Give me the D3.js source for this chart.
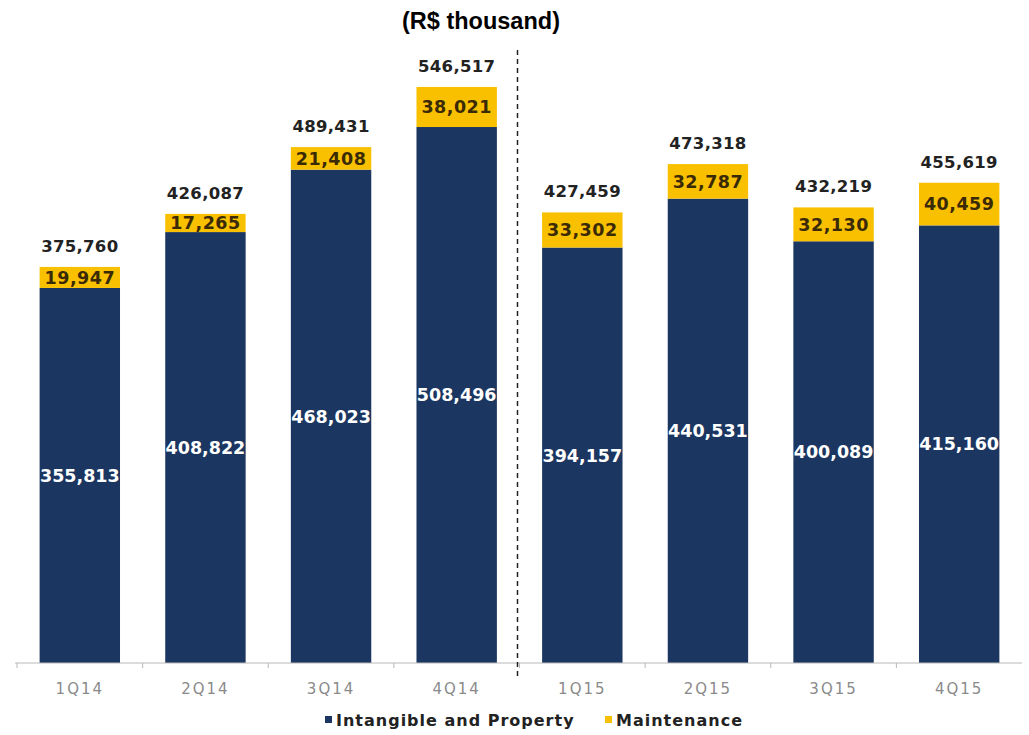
<!DOCTYPE html>
<html>
<head>
<meta charset="utf-8">
<script src="https://cdn.jsdelivr.net/npm/d3@7"></script>
<style>
  html, body { margin: 0; padding: 0; background: #fff; }
  svg { display: block; }
</style>
</head>
<body>
<svg id="chart" width="1029" height="735"></svg>
<script>
// Quarterly capex, R$ thousand
const quarters = ["1Q14", "2Q14", "3Q14", "4Q14", "1Q15", "2Q15", "3Q15", "4Q15"];
const intangible = [355813, 408822, 468023, 508496, 394157, 440531, 400089, 415160];
const maintenance = [19947, 17265, 21408, 38021, 33302, 32787, 32130, 40459];
const totals = [375760, 426087, 489431, 546517, 427459, 473318, 432219, 455619];
const seriesNames = ["Intangible and Property", "Maintenance"];

const navy = "#1b3660";
const gold = "#f9c000";
const fmt = d3.format(",");

const svg = d3.select("#chart");

const x = d3.scaleBand().domain(quarters).range([17, 1022]).paddingInner(0.36).paddingOuter(0.18);
const y = d3.scaleLinear().domain([0, 629000]).range([663, 0]);

// Title
svg.append("text")
  .attr("x", 481).attr("y", 29)
  .attr("text-anchor", "middle")
  .style("font-family", "Liberation Sans, Arial, sans-serif")
  .style("font-weight", "bold")
  .style("font-size", "23.5px")
  .attr("fill", "#000")
  .text("(R$ thousand)");

const rows = quarters.map((q, i) => ({ q, a: intangible[i], m: maintenance[i], t: totals[i] }));

// Intangible and Property segments
svg.append("g").selectAll("rect").data(rows).join("rect")
  .attr("x", d => x(d.q)).attr("width", x.bandwidth())
  .attr("y", d => y(d.a)).attr("height", d => y(0) - y(d.a))
  .attr("fill", navy);

// Maintenance segments stacked on top
svg.append("g").selectAll("rect").data(rows).join("rect")
  .attr("x", d => x(d.q)).attr("width", x.bandwidth())
  .attr("y", d => y(d.a + d.m)).attr("height", d => y(d.a) - y(d.a + d.m))
  .attr("fill", gold);

const labelFont = "'DejaVu Sans', sans-serif";

// Values inside the navy segments
svg.append("g").selectAll("text").data(rows).join("text")
  .attr("x", d => x(d.q) + x.bandwidth() / 2)
  .attr("y", d => (y(0) + y(d.a)) / 2)
  .attr("dy", "0.36em")
  .attr("text-anchor", "middle")
  .style("font-family", labelFont).style("font-weight", "bold").style("font-size", "17.5px")
  .attr("fill", "#fff")
  .text(d => fmt(d.a));

// Values inside the maintenance segments
svg.append("g").selectAll("text").data(rows).join("text")
  .attr("x", d => x(d.q) + x.bandwidth() / 2)
  .attr("y", d => (y(d.a) + y(d.a + d.m)) / 2)
  .attr("dy", "0.36em")
  .attr("text-anchor", "middle")
  .style("font-family", labelFont).style("font-weight", "bold").style("font-size", "17.5px")
  .style("letter-spacing", "0.5px")
  .attr("fill", "#3a2a05")
  .text(d => fmt(d.m));

// Totals above each bar
svg.append("g").selectAll("text").data(rows).join("text")
  .attr("x", d => x(d.q) + x.bandwidth() / 2)
  .attr("y", d => y(d.t) - 15)
  .attr("text-anchor", "middle")
  .style("font-family", labelFont).style("font-weight", "bold").style("font-size", "16.5px")
  .style("letter-spacing", "0.3px")
  .attr("fill", "#222")
  .text(d => fmt(d.t));

// Category axis
const axis = svg.append("g").attr("transform", `translate(0,${y(0)})`)
  .call(d3.axisBottom(x).tickSize(0).tickPadding(20));
axis.select(".domain").attr("stroke", "#b8b8b8").attr("d", "M15,0H1022");
axis.selectAll("text")
  .style("font-family", labelFont).style("font-size", "15px")
  .style("letter-spacing", "2px")
  .attr("fill", "#8a8a8a");
// tick marks at the category boundaries
const bounds = quarters.map(q => x(q) - x.step() * x.paddingInner() / 2).slice(1);
axis.selectAll("line.sep").data([17].concat(bounds)).join("line")
  .attr("class", "sep")
  .attr("x1", d => d).attr("x2", d => d)
  .attr("y1", 0).attr("y2", 5)
  .attr("stroke", "#b8b8b8");

// Dashed separator between years
const sepX = x("1Q15") - x.step() * x.paddingInner() / 2 - 2;
svg.append("line")
  .attr("x1", sepX).attr("x2", sepX)
  .attr("y1", 50).attr("y2", 676)
  .attr("stroke", "#222").attr("stroke-width", 1.5)
  .attr("stroke-dasharray", "5,4");

// Legend
const legend = svg.append("g").attr("transform", "translate(0,720)");
const items = [
  { name: seriesNames[0], color: navy, x: 325 },
  { name: seriesNames[1], color: gold, x: 605 }
];
items.forEach(it => {
  legend.append("rect").attr("x", it.x).attr("y", -4).attr("width", 7).attr("height", 7).attr("fill", it.color);
  legend.append("text").attr("x", it.x + 11).attr("y", 0).attr("dy", "0.36em")
    .style("font-family", labelFont).style("font-weight", "bold").style("font-size", "16px")
    .style("letter-spacing", "1px")
    .attr("fill", "#222").text(it.name);
});
</script>
</body>
</html>
